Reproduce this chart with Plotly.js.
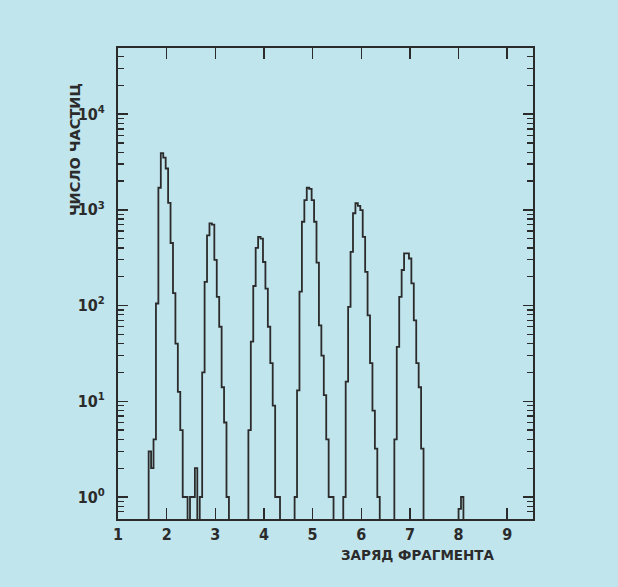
<!DOCTYPE html>
<html>
<head>
<meta charset="utf-8">
<script src="https://cdn.plot.ly/plotly-3.0.1.min.js"></script>
<style>html,body{margin:0;padding:0;background:#c1e5ed;}#chart{width:618px;height:587px;}</style>
</head>
<body>
<div id="chart"></div>
<script>
// ---- data ----
const binWidth = 0.05;
const peakStarts = [1.63, 2.68, 3.68, 4.63, 5.63, 6.68, 8.00];
const peak2 = [3, 2, 4, 105, 1700, 3900, 3500, 2700, 1180, 450, 135, 40, 12.5, 5, 1, 1, 0, 1, 1, 2];
const peak3 = [1, 20, 177, 540, 720, 700, 300, 123, 60, 14, 6, 1];
const peak4 = [5, 42, 160, 400, 520, 500, 285, 150, 60, 25, 9, 1, 1];
const peak5 = [1, 13, 140, 750, 1260, 1700, 1650, 1260, 750, 280, 62, 30, 11.6, 4, 1, 1];
const peak6 = [1, 16, 97, 364, 920, 1170, 1100, 990, 520, 225, 79, 25, 8, 3.2, 1];
const peak7 = [4, 37, 123, 235, 350, 350, 310, 170, 70, 25, 14, 3.2];
const peak8 = [0.75, 1];
const peaks = [peak2, peak3, peak4, peak5, peak6, peak7, peak8];

const xTickVals = [1, 2, 3, 4, 5, 6, 7, 8, 9];
const yTickVals = [1, 10, 100, 1000, 10000];
const yTickText = ['10<sup>0</sup>', '10<sup>1</sup>', '10<sup>2</sup>', '10<sup>3</sup>', '10<sup>4</sup>'];
const xTitle = 'ЗАРЯД ФРАГМЕНТА';
const yTitle = 'ЧИСЛО ЧАСТИЦ';

// ---- build step outline (zero bins drop below the axis) ----
const FLOOR = 0.01;
const xs = [1.0], ys = [FLOOR];
peaks.forEach((counts, p) => {
  const s = peakStarts[p];
  counts.forEach((c, i) => {
    xs.push(+(s + i * binWidth).toFixed(4));
    ys.push(c > 0 ? c : FLOOR);
  });
  xs.push(+(s + counts.length * binWidth).toFixed(4));
  ys.push(FLOOR);
});
xs.push(9.6); ys.push(FLOOR);

const minorVals = [];
[0.1, 1, 10, 100, 1000, 10000].forEach(d => { for (let k = 2; k <= 9; k++) minorVals.push(d * k); });

const ink = '#2b2b2b';
const bg = '#c1e5ed';
const tickFont = {family: 'Liberation Sans Narrow, DejaVu Sans Condensed, sans-serif', size: 16, color: ink, weight: 'bold'};

const trace = {
  x: xs, y: ys, type: 'scatter', mode: 'lines',
  line: {shape: 'hv', color: ink, width: 1.8},
  hoverinfo: 'skip'
};

const layout = {
  width: 618, height: 587,
  margin: {l: 118, r: 85, t: 48, b: 68},
  paper_bgcolor: bg, plot_bgcolor: bg,
  showlegend: false,
  xaxis: {
    range: [1, 9.53], tickmode: 'array', tickvals: xTickVals,
    ticks: 'inside', ticklen: 11, tickwidth: 1.5, tickcolor: ink,
    showline: true, linewidth: 2, linecolor: ink, mirror: 'ticks',
    showgrid: false, zeroline: false, tickfont: tickFont
  },
  yaxis: {
    type: 'log', range: [-0.23, 4.69], tickmode: 'array',
    tickvals: yTickVals, ticktext: yTickText,
    ticks: 'inside', ticklen: 10, tickwidth: 1.5, tickcolor: ink,
    minor: {tickmode: 'array', tickvals: minorVals, ticks: 'inside', ticklen: 6, tickwidth: 1.3, tickcolor: ink, showgrid: false},
    showline: true, linewidth: 2, linecolor: ink, mirror: 'ticks',
    showgrid: false, zeroline: false, tickfont: tickFont, ticklabelstandoff: 8
  },
  annotations: [
    {text: xTitle, xref: 'paper', yref: 'paper', x: 0.723, y: -0.076, xanchor: 'center', yanchor: 'middle', showarrow: false,
     font: {family: 'DejaVu Sans, sans-serif', size: 13.5, color: ink, weight: 'bold'}},
    {text: yTitle, xref: 'paper', yref: 'paper', x: -0.104, y: 0.785, xanchor: 'center', yanchor: 'middle', textangle: -90, showarrow: false,
     font: {family: 'DejaVu Sans, sans-serif', size: 14.5, color: ink, weight: 'bold'}}
  ]
};

Plotly.newPlot('chart', [trace], layout, {staticPlot: true});
</script>
</body>
</html>
